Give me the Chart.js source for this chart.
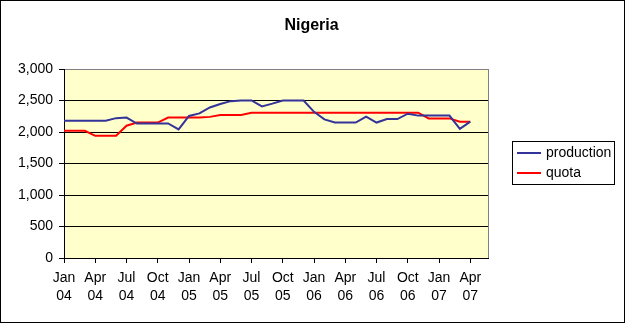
<!DOCTYPE html>
<html>
<head>
<meta charset="utf-8">
<title>Nigeria</title>
<script src="https://cdn.jsdelivr.net/npm/chart.js@4/dist/chart.umd.min.js"></script>
<style>
	body { margin: 0; background: #fff; }
	#frame { width: 623px; height: 321px; border: 1px solid #000; }
	canvas { display: block; }
</style>
</head>
<body>
<div id="frame"><canvas id="resultChart" width="623" height="321"></canvas></div>
<script>
const chartTitle = 'Nigeria';

const months = [
	'Jan 04', 'Feb 04', 'Mar 04', 'Apr 04', 'May 04', 'Jun 04', 'Jul 04', 'Aug 04', 'Sep 04', 'Oct 04', 'Nov 04', 'Dec 04',
	'Jan 05', 'Feb 05', 'Mar 05', 'Apr 05', 'May 05', 'Jun 05', 'Jul 05', 'Aug 05', 'Sep 05', 'Oct 05', 'Nov 05', 'Dec 05',
	'Jan 06', 'Feb 06', 'Mar 06', 'Apr 06', 'May 06', 'Jun 06', 'Jul 06', 'Aug 06', 'Sep 06', 'Oct 06', 'Nov 06', 'Dec 06',
	'Jan 07', 'Feb 07', 'Mar 07', 'Apr 07'
];

const production = [
	2180, 2180, 2180, 2180, 2180, 2220, 2230, 2135, 2135, 2135, 2135, 2040,
	2255, 2295, 2390, 2445, 2490, 2500, 2500, 2405, 2450, 2500, 2500, 2500,
	2320, 2200, 2150, 2150, 2150, 2245, 2150, 2205, 2205, 2290, 2260, 2260,
	2260, 2260, 2050, 2165
];

const quota = [
	2020, 2020, 2020, 1940, 1940, 1940, 2100, 2150, 2150, 2150, 2230, 2230,
	2230, 2230, 2240, 2270, 2270, 2270, 2306, 2306, 2306, 2306, 2306, 2306,
	2306, 2306, 2306, 2306, 2306, 2306, 2306, 2306, 2306, 2306, 2306, 2216,
	2216, 2216, 2163, 2163
];

const seriesNames = [ 'production', 'quota' ];
const seriesColors = [ '#333399', '#ff0000' ];

Chart.defaults.font.family = 'Arial, "Liberation Sans", sans-serif';
Chart.defaults.color = '#000';

function toPoints( values ) {
	return values.map( function ( v, i ) {
		return { x: i, y: v };
	} );
}

// Yellow plot area with grey frame, like the old Excel charts.
const plotBackground = {
	id: 'plotBackground',
	beforeDraw: function ( chart ) {
		const a = chart.chartArea, ctx = chart.ctx;
		ctx.save();
		ctx.fillStyle = '#ffffcc';
		ctx.fillRect( a.left, a.top, a.right - a.left, a.bottom - a.top );
		ctx.strokeStyle = '#808080';
		ctx.lineWidth = 1;
		ctx.strokeRect( Math.round( a.left ) + 0.5, Math.round( a.top ) + 0.5,
			Math.round( a.right - a.left ), Math.round( a.bottom - a.top ) );
		ctx.restore();
	}
};

// Title centred on the whole picture, and the boxed legend on the right.
const titleAndLegend = {
	id: 'titleAndLegend',
	afterDraw: function ( chart ) {
		const ctx = chart.ctx;
		ctx.save();
		ctx.fillStyle = '#000';
		ctx.font = 'bold 16px Arial, "Liberation Sans", sans-serif';
		ctx.textAlign = 'center';
		ctx.textBaseline = 'middle';
		ctx.fillText( chartTitle, 310.5, 25 );

		const left = 511.5, top = 140.5;
		ctx.fillStyle = '#fff';
		ctx.fillRect( left, top, 102, 43 );
		ctx.strokeStyle = '#000';
		ctx.lineWidth = 1;
		ctx.strokeRect( left, top, 102, 43 );
		ctx.font = '14px Arial, "Liberation Sans", sans-serif';
		ctx.textAlign = 'left';
		chart.data.datasets.forEach( function ( ds, i ) {
			const y = 152 + i * 20;
			ctx.strokeStyle = ds.borderColor;
			ctx.lineWidth = 2;
			ctx.beginPath();
			ctx.moveTo( 516, y );
			ctx.lineTo( 540, y );
			ctx.stroke();
			ctx.fillStyle = '#000';
			ctx.fillText( ds.label, 545, y );
		} );
		ctx.restore();
	}
};

new Chart( 'resultChart', {
	type: 'line',
	data: {
		datasets: [ {
			label: seriesNames[0],
			borderColor: seriesColors[0],
			borderWidth: 2,
			pointRadius: 0,
			tension: 0,
			data: toPoints( production )
		}, {
			label: seriesNames[1],
			borderColor: seriesColors[1],
			borderWidth: 2,
			pointRadius: 0,
			tension: 0,
			data: toPoints( quota )
		} ]
	},
	options: {
		responsive: false,
		animation: false,
		devicePixelRatio: 1,
		layout: {
			padding: { top: 68, left: 0, right: 136, bottom: 0 }
		},
		plugins: {
			legend: { display: false },
			tooltip: { enabled: false },
			title: { display: false }
		},
		scales: {
			x: {
				type: 'linear',
				min: 0,
				max: 40.7,
				afterFit: function ( scale ) { scale.height = 64; },
				border: { color: '#000', width: 1 },
				grid: {
					drawOnChartArea: false,
					tickLength: 5,
					tickColor: '#000'
				},
				ticks: {
					stepSize: 3,
					includeBounds: false,
					autoSkip: false,
					maxRotation: 0,
					padding: 6,
					font: { size: 14, lineHeight: '18px' },
					callback: function ( value ) {
						const m = months[value];
						return m ? m.split( ' ' ) : '';
					}
				}
			},
			y: {
				min: 0,
				max: 3000,
				afterFit: function ( scale ) { scale.width = 63; },
				border: { color: '#000', width: 1 },
				grid: {
					tickLength: 5,
					tickColor: '#000',
					color: function ( c ) {
						return c.tick && c.tick.value === 3000 ? '#808080' : '#000';
					}
				},
				ticks: {
					stepSize: 500,
					padding: 6,
					font: { size: 14 },
					callback: function ( value ) {
						return value.toLocaleString( 'en-US' );
					}
				}
			}
		}
	},
	plugins: [ plotBackground, titleAndLegend ]
} );
</script>
</body>
</html>
